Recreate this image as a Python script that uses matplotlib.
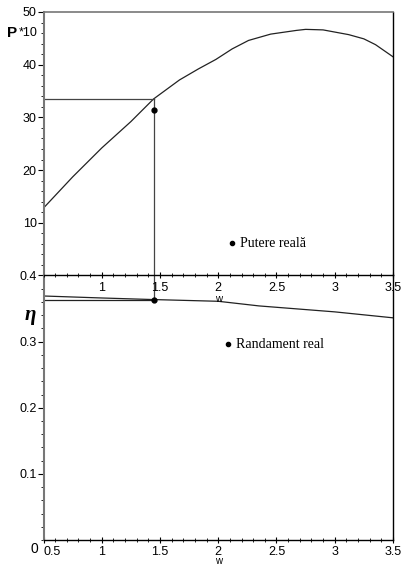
import matplotlib
matplotlib.use('Agg')
import matplotlib.pyplot as plt
from matplotlib.ticker import MultipleLocator

plt.rcParams['font.family'] = ['Liberation Sans', 'DejaVu Sans']

# power curve, P*10 vs w
w_p = [0.5, 0.75, 1.0, 1.25, 1.445, 1.667, 1.83, 1.98, 2.12, 2.26, 2.45,
       2.67, 2.75, 2.9, 3.12, 3.25, 3.35, 3.5]
p_val = [12.8, 18.7, 24.2, 29.2, 33.5, 37.1, 39.2, 41.0, 43.0, 44.6, 45.8,
         46.5, 46.7, 46.6, 45.7, 44.9, 43.8, 41.5]

# efficiency curve
w_eta = [0.5, 1.0, 1.445, 2.0, 2.35, 3.0, 3.5]
eta_val = [0.369, 0.366, 0.3636, 0.361, 0.354, 0.345, 0.336]

# operating point
w_op = 1.445
p_op = 33.5
p_real = 31.4
eta_op = 0.3636

# legend dots
leg_p = (2.12, 6.1)
leg_eta = (2.08, 0.296)

xticks_top = [1, 1.5, 2, 2.5, 3, 3.5]
xticks_bot = [0.5, 1, 1.5, 2, 2.5, 3, 3.5]
yticks_top = [10, 20, 30, 40, 50]
yticks_bot = [0.1, 0.2, 0.3, 0.4]

fig = plt.figure(figsize=(4.01, 5.65), dpi=100)
L, W = 0.1085, 0.8715
ax1 = fig.add_axes([L, 0.5124, W, 0.9788 - 0.5124])
ax2 = fig.add_axes([L, 0.0442, W, 0.5124 - 0.0442])
ax1.set_zorder(3)
ax1.patch.set_visible(False)

lc = '#222222'
gray = '#777777'

for ax in (ax1, ax2):
    ax.set_xlim(0.5, 3.5)
    ax.spines['left'].set_color(gray)
    ax.spines['left'].set_linewidth(1.5)
    ax.spines['right'].set_color('black')
    ax.spines['right'].set_linewidth(1.0)
    ax.spines['bottom'].set_color('black')
    ax.spines['bottom'].set_linewidth(1.0)
    ax.xaxis.set_minor_locator(MultipleLocator(0.1))
    ax.tick_params(axis='x', which='both', direction='inout', labelsize=9,
                   pad=2, color='black')
    ax.tick_params(axis='x', which='major', length=5)
    ax.tick_params(axis='x', which='minor', length=3)
    ax.tick_params(axis='y', which='both', direction='out', labelsize=9,
                   pad=1, color='black')
    ax.tick_params(axis='y', which='major', length=4)
    ax.tick_params(axis='y', which='minor', length=2.5)

ax1.spines['top'].set_color(gray)
ax1.spines['top'].set_linewidth(1.2)
ax2.spines['top'].set_visible(False)

# top panel
ax1.set_ylim(0, 50)
ax1.plot(w_p, p_val, color=lc, lw=0.9)
ax1.plot([0.5, w_op], [p_op, p_op], color='#444444', lw=0.9)
ax1.plot([w_op, w_op], [0, p_op], color='#444444', lw=0.9)
ax1.plot([w_op], [p_real], 'o', color='black', ms=3.5)
ax1.plot([leg_p[0]], [leg_p[1]], 'o', color='black', ms=3)
ax1.text(leg_p[0] + 0.07, leg_p[1], 'Putere reală', family='Liberation Serif',
         fontsize=10, va='center', ha='left')
ax1.set_xticks(xticks_top)
ax1.set_xticklabels([str(t) for t in xticks_top])
ax1.set_yticks(yticks_top)
ax1.yaxis.set_minor_locator(MultipleLocator(2))
ax1.set_xlabel('w', fontsize=7, labelpad=0)
ax1.text(-0.016, 46, '*10', transform=ax1.get_yaxis_transform(),
         ha='right', va='center', fontsize=9)
ax1.text(-0.076, 46, 'P', transform=ax1.get_yaxis_transform(),
         ha='right', va='center', fontsize=11, fontweight='bold')

# bottom panel
ax2.set_ylim(0, 0.4)
ax2.tick_params(axis='x', which='major', pad=1.5)
ax2.plot(w_eta, eta_val, color=lc, lw=0.9)
ax2.plot([0.5, w_op], [eta_op, eta_op], color='#222222', lw=0.9)
ax2.plot([w_op, w_op], [eta_op, 0.4], color='#444444', lw=0.9)
ax2.plot([w_op], [eta_op], 'o', color='black', ms=3.5)
ax2.plot([leg_eta[0]], [leg_eta[1]], 'o', color='black', ms=3)
ax2.text(leg_eta[0] + 0.07, leg_eta[1], 'Randament real', family='Liberation Serif',
         fontsize=10, va='center', ha='left')
ax2.set_xticks(xticks_bot)
ax2.set_xticklabels([str(t) for t in xticks_bot])
for lab in ax2.get_xticklabels():
    if lab.get_text() == '0.5':
        lab.set_horizontalalignment('left')
ax2.set_yticks(yticks_bot)
ax2.set_yticklabels([str(t) for t in yticks_bot])
ax2.yaxis.set_minor_locator(MultipleLocator(0.02))
ax2.set_xlabel('w', fontsize=7, labelpad=-1)
ax2.text(-0.015, -0.003, '0', transform=ax2.get_yaxis_transform(),
         ha='right', va='top', fontsize=10)
ax2.text(-0.039, 0.34, 'η', transform=ax2.get_yaxis_transform(),
         ha='center', va='center', fontsize=15, fontweight='bold',
         style='italic', family=['Liberation Serif', 'DejaVu Serif'])

fig.savefig('out.png', dpi=100)
